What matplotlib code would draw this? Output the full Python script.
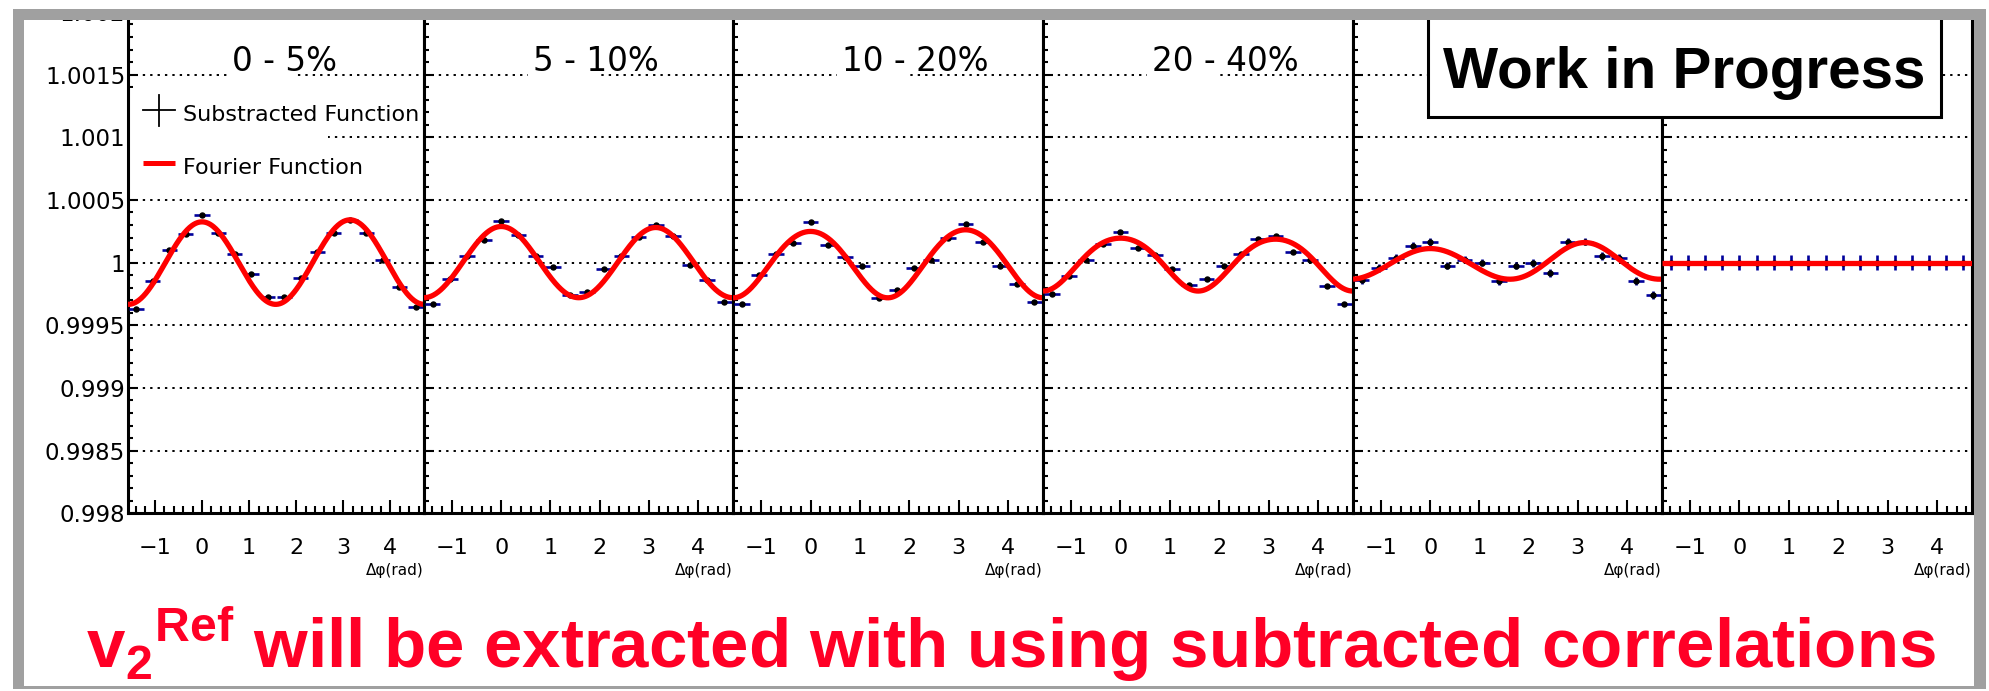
import numpy as np
import matplotlib
matplotlib.use('Agg')
import matplotlib.pyplot as plt
from matplotlib.patches import Rectangle
from matplotlib.lines import Line2D
from matplotlib.ticker import MultipleLocator, FixedLocator, FixedFormatter

plt.rcParams['font.family'] = ['DejaVu Sans']
plt.rcParams['mathtext.fontset'] = 'custom'
plt.rcParams['mathtext.bf'] = 'Liberation Sans:bold'
plt.rcParams['mathtext.rm'] = 'Liberation Sans:bold'

# ---------------- data ----------------
# bin centres of delta phi (18 bins from -pi/2 to 3pi/2)
dphi = [-1.396, -1.047, -0.698, -0.349, 0.0, 0.349, 0.698, 1.047, 1.396,
        1.745, 2.094, 2.443, 2.793, 3.142, 3.491, 3.840, 4.189, 4.538]

cent_labels = ['0 - 5%', '5 - 10%', '10 - 20%', '20 - 40%', '', '']

corr_0_5 = [0.999627, 0.999857, 1.000098, 1.000228, 1.000376, 1.000236, 1.000069, 0.999910, 0.999725,
            0.999725, 0.999878, 1.000085, 1.000236, 1.000341, 1.000236, 1.000018, 0.999807, 0.999648]
corr_5_10 = [0.999672, 0.999870, 1.000056, 1.000183, 1.000328, 1.000217, 1.000056, 0.999966, 0.999744,
             0.999764, 0.999950, 1.000056, 1.000201, 1.000302, 1.000209, 0.999979, 0.999865, 0.999688]
corr_10_20 = [0.999671, 0.999898, 1.000067, 1.000160, 1.000321, 1.000139, 1.000045, 0.999973, 0.999719,
              0.999783, 0.999955, 1.000024, 1.000195, 1.000308, 1.000168, 0.999976, 0.999832, 0.999687]
corr_20_40 = [0.999746, 0.999893, 1.000021, 1.000147, 1.000241, 1.000115, 1.000062, 0.999952, 0.999821,
              0.999872, 0.999976, 1.000067, 1.000187, 1.000209, 1.000083, 1.000021, 0.999815, 0.999671]
corr_40_60 = [0.999861, 0.999955, 1.000035, 1.000136, 1.000163, 0.999976, 1.000024, 1.000000, 0.999853,
              0.999976, 0.999995, 0.999917, 1.000168, 1.000168, 1.000053, 1.000040, 0.999853, 0.999741]
corr_60_100 = [1.0, 1.0, 1.0, 1.0, 1.0, 1.0, 1.0, 1.0, 1.0,
               1.0, 1.0, 1.0, 1.0, 1.0, 1.0, 1.0, 1.0, 1.0]
corr_all = [corr_0_5, corr_5_10, corr_10_20, corr_20_40, corr_40_60, corr_60_100]

# vertical error bar of each panel
corr_err = [0.000015, 0.000015, 0.000015, 0.000015, 0.00003, 0.00006]

# Fourier coefficients a1..a4 of the fitted function 1 + sum a_n cos(n dphi)
fourier_coef = [[-0.000008, 0.000333, 0.0, 0.0],
                [0.000004, 0.000282, 0.0, 0.000002],
                [-0.0000065, 0.000268, 0.0, -0.0000128],
                [0.000004, 0.000209, 0.0, -0.000018],
                [-0.000012, 0.000134, -0.000012, 0.000002],
                [0.0, 0.0, 0.0, 0.0]]

ytick_vals = [0.998, 0.9985, 0.999, 0.9995, 1.0, 1.0005, 1.001, 1.0015, 1.002]
ytick_labels = ['0.998', '0.9985', '0.999', '0.9995', '1', '1.0005', '1.001', '1.0015', '1.002']
xtick_vals = [-1, 0, 1, 2, 3, 4]
xtick_labels = ['\u22121', '0', '1', '2', '3', '4']

# ---------------- figure ----------------
W, H = 1990, 691
fig = plt.figure(figsize=(W / 100, H / 100), dpi=100)

edges_px = [128, 424, 733, 1043, 1353, 1662, 1972]
y_top_px, y_bot_px = 11.9, 513.3
x_fine = np.linspace(-np.pi / 2, 3 * np.pi / 2, 500)

axes = []
for i in range(6):
    x0 = edges_px[i] / W
    w = (edges_px[i + 1] - edges_px[i]) / W
    ax = fig.add_axes([x0, 1 - y_bot_px / H, w, (y_bot_px - y_top_px) / H])
    axes.append(ax)

    ax.set_xlim(-np.pi / 2, 3 * np.pi / 2)
    ax.set_ylim(0.998, 1.002)

    ax.xaxis.set_major_locator(FixedLocator(xtick_vals))
    ax.xaxis.set_major_formatter(FixedFormatter(xtick_labels))
    ax.xaxis.set_minor_locator(MultipleLocator(0.2))
    ax.yaxis.set_major_locator(FixedLocator(ytick_vals))
    ax.yaxis.set_major_formatter(FixedFormatter(ytick_labels))
    ax.yaxis.set_minor_locator(MultipleLocator(0.0001))

    ax.tick_params(which='both', direction='in', top=False, right=False, width=1.5)
    ax.tick_params(axis='x', which='major', length=9.5, labelsize=16, pad=18)
    ax.tick_params(axis='x', which='minor', length=4.8)
    ax.tick_params(axis='y', which='major', length=7.2, labelsize=16.5, pad=2)
    ax.tick_params(axis='y', which='minor', length=3.6)
    ax.tick_params(axis='y', labelleft=(i == 0))

    for sp in ax.spines.values():
        sp.set_linewidth(2.2)

    ax.yaxis.grid(True, which='major', color='black', linestyle=(0, (1.2, 2.6)), linewidth=1.4)
    ax.xaxis.grid(False)

    # points with error bars
    ax.errorbar(dphi, corr_all[i], xerr=0.16, yerr=corr_err[i], fmt='none',
                ecolor='#00009A', elinewidth=1.9, capsize=0, zorder=3)
    ax.plot(dphi, corr_all[i], 'o', color='black', ms=3.6, zorder=4)

    # Fourier function
    a = fourier_coef[i]
    fit = 1 + sum(a[n] * np.cos((n + 1) * x_fine) for n in range(4))
    ax.plot(x_fine, fit, color='#FF0000', lw=3.8, zorder=5, solid_capstyle='butt')

    # centrality title with white box behind
    if cent_labels[i]:
        ax.add_patch(Rectangle((0.335, 0.86), 0.23, 0.08, transform=ax.transAxes,
                               facecolor='white', edgecolor='none', zorder=1.8))
        ax.text(0.352, 0.902, cent_labels[i], transform=ax.transAxes, ha='left',
                va='center', fontsize=23.5, zorder=6)

    ax.text(1.0, -0.1145, '\u0394\u03c6(rad)', transform=ax.transAxes, ha='right',
            va='center', fontsize=11)

# legend in the first panel
ax = axes[0]
ax.add_patch(Rectangle((0, 0.645), 0.676, 0.203, transform=ax.transAxes,
                       facecolor='white', edgecolor='none', zorder=1.8))
ax.add_line(Line2D([0.0507, 0.1588], [0.8044, 0.8044], transform=ax.transAxes,
                   color='black', lw=1.3, zorder=6))
ax.add_line(Line2D([0.1047, 0.1047], [0.7726, 0.8343], transform=ax.transAxes,
                   color='black', lw=1.3, zorder=6))
ax.text(0.1858, 0.7945, 'Substracted Function', transform=ax.transAxes,
        ha='left', va='center', fontsize=16, zorder=6)
ax.add_line(Line2D([0.0507, 0.1588], [0.6986, 0.6986], transform=ax.transAxes,
                   color='#FF0000', lw=3.6, zorder=6, solid_capstyle='butt'))
ax.text(0.1858, 0.6886, 'Fourier Function', transform=ax.transAxes,
        ha='left', va='center', fontsize=16, zorder=6)

# "Work in Progress" box
fig.add_artist(Rectangle((1428 / W, 1 - 117 / H), (1941 - 1428) / W, 100 / H,
                         transform=fig.transFigure, facecolor='white',
                         edgecolor='black', lw=2.2, zorder=20))
fig.text(1684.5 / W, 1 - 88 / H, 'Work in Progress', ha='center', va='baseline',
         fontsize=42, family='Liberation Sans', weight='bold', zorder=21)

# red message at the bottom
fig.text(86 / W, 1 - 668 / H,
         r'$\mathbf{v}_{\mathbf{2}}{}^{\mathbf{Ref}}$ will be extracted with using subtracted correlations',
         ha='left', va='baseline', fontsize=49.7, family='Liberation Sans',
         weight='bold', color='#FF0026', zorder=21)

# slide frame (grey border, white strip above it)
gray = '#A0A0A0'
frame_parts = [((0, 0), W, 9, 'white'),
               ((13, 9), 1986 - 13, 11, gray),
               ((13, 9), 11, 680, gray),
               ((1974, 9), 12, 680, gray),
               ((13, 686), 1986 - 13, 3, gray),
               ((1986, 0), 4, H, 'white')]
for (px, py), pw, ph, col in frame_parts:
    fig.add_artist(Rectangle((px / W, 1 - (py + ph) / H), pw / W, ph / H,
                             transform=fig.transFigure, facecolor=col,
                             edgecolor='none', zorder=30))

plt.savefig('out.png', dpi=100)
